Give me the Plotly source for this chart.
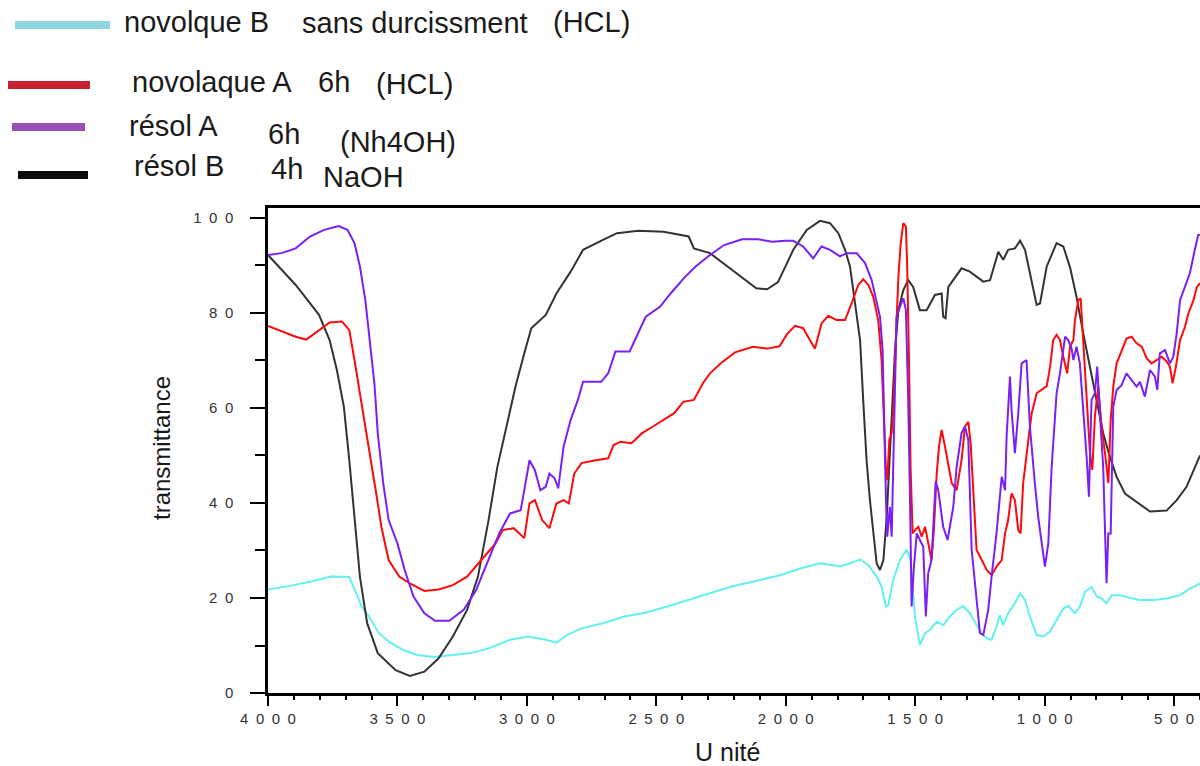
import plotly.graph_objects as go

# --- data (wavenumber, transmittance) ---
novolque_b_w = [4000, 3920, 3838, 3755, 3686, 3666, 3638, 3610, 3576, 3534, 3479, 3424, 3355, 3286,
                3217, 3148, 3065, 2996, 2927, 2886, 2845, 2789, 2706, 2624, 2541, 2458, 2375, 2293,
                2210, 2100, 2022, 1945, 1868, 1791, 1752, 1713, 1681, 1649, 1630, 1613, 1604, 1585,
                1559, 1533, 1518, 1501, 1482, 1462, 1443, 1417, 1392, 1366, 1340, 1315, 1289, 1263,
                1243, 1224, 1205, 1186, 1173, 1160, 1141, 1115, 1095, 1076, 1057, 1031, 1006, 980,
                954, 928, 909, 889, 883, 864, 844, 819, 799, 780, 761, 741, 709, 677, 632, 581, 529,
                477, 439, 400]
novolque_b_t = [21.8, 22.5, 23.4, 24.5, 24.4, 21.7, 18.2, 16.1, 12.9, 10.8, 9.1, 8.0, 7.6, 8.0,
                8.4, 9.4, 11.2, 11.9, 11.2, 10.6, 12.2, 13.6, 14.7, 16.1, 16.9, 18.2, 19.6, 21.0,
                22.4, 23.8, 24.8, 26.2, 27.3, 26.7, 27.3, 28.1, 26.9, 24.5, 22.4, 18.2, 18.5, 23.8,
                28.0, 30.2, 28.0, 16.1, 10.1, 12.6, 13.3, 15.0, 14.3, 16.1, 17.5, 18.3, 16.8, 14.3,
                12.6, 11.5, 11.2, 14.0, 16.4, 14.3, 16.8, 18.9, 21.0, 19.6, 16.1, 12.2, 11.9, 12.9,
                15.4, 17.8, 18.3, 17.1, 16.8, 18.2, 21.3, 22.3, 20.3, 19.9, 18.9, 20.6, 20.6, 20.1,
                19.6, 19.6, 19.9, 20.6, 22.0, 23.1]

novolaque_a_w = [4000, 3948, 3893, 3852, 3810, 3762, 3714, 3686, 3666, 3645, 3624, 3603, 3582, 3562,
                 3534, 3493, 3452, 3396, 3341, 3286, 3231, 3176, 3121, 3093, 3051, 3010, 2990, 2969,
                 2941, 2913, 2886, 2858, 2838, 2817, 2789, 2734, 2686, 2665, 2638, 2596, 2555, 2513,
                 2472, 2431, 2396, 2355, 2320, 2293, 2251, 2196, 2127, 2072, 2024, 1996, 1964, 1933,
                 1907, 1887, 1862, 1836, 1804, 1771, 1746, 1720, 1701, 1681, 1662, 1643, 1630, 1621,
                 1613, 1608, 1600, 1591, 1584, 1574, 1565, 1556, 1546, 1536, 1531, 1524, 1518, 1510,
                 1501, 1488, 1475, 1462, 1450, 1437, 1428, 1417, 1408, 1398, 1385, 1372, 1359, 1340,
                 1321, 1308, 1295, 1286, 1276, 1263, 1243, 1224, 1205, 1186, 1166, 1153, 1141, 1128,
                 1115, 1102, 1093, 1083, 1063, 1050, 1031, 1012, 992, 979, 967, 954, 941, 928, 913,
                 902, 889, 883, 870, 861, 851, 838, 825, 816, 806, 793, 780, 767, 754, 745, 735, 722,
                 703, 684, 664, 645, 625, 606, 587, 567, 548, 529, 516, 506, 493, 477, 458, 445, 425,
                 412, 400]
novolaque_a_t = [77.3, 76.1, 75.0, 74.4, 76.1, 78.0, 78.2, 76.4, 70.1, 63.1, 56.8, 49.0, 42.0, 35.0,
                 28.0, 24.5, 23.1, 21.5, 21.8, 22.7, 24.5, 28.0, 31.5, 34.3, 34.7, 32.6, 39.9, 40.6,
                 36.4, 34.7, 39.9, 40.6, 39.9, 46.2, 48.4, 49.0, 49.4, 52.2, 52.9, 52.6, 54.7, 56.1,
                 57.5, 58.9, 61.3, 61.7, 65.2, 67.3, 69.4, 71.7, 72.9, 72.5, 73.0, 75.5, 77.3, 76.8,
                 74.3, 72.5, 77.8, 79.4, 78.5, 78.5, 82.0, 85.9, 87.1, 85.9, 83.4, 78.5, 70.1, 58.2,
                 47.0, 44.8, 53.3, 54.7, 60.3, 75.7, 87.6, 94.7, 98.9, 98.2, 89.8, 70.1, 47.6, 33.6,
                 34.3, 35.0, 32.9, 35.0, 31.5, 28.0, 34.3, 46.2, 51.9, 55.4, 51.9, 47.6, 44.2, 42.7,
                 49.0, 56.1, 57.1, 52.6, 43.4, 30.1, 28.0, 25.9, 24.8, 26.6, 28.0, 33.6, 36.4, 42.0,
                 40.6, 34.3, 33.6, 44.2, 53.3, 58.9, 63.1, 63.8, 64.6, 68.7, 74.3, 75.4, 74.3, 70.8, 67.3,
                 72.9, 74.3, 78.5, 82.7, 83.1, 74.3, 61.7, 50.5, 47.0, 58.2, 64.5, 56.1, 50.5, 44.2, 57.5, 64.5, 69.4,
                 72.2, 74.6, 75.0, 73.6, 72.9, 70.5, 69.4, 70.1, 70.8, 69.8, 68.7, 65.2, 68.7, 74.3, 77.1, 79.9, 82.7,
                 85.5, 86.3]

resol_a_w = [4000, 3948, 3893, 3838, 3783, 3727, 3693, 3666, 3645, 3624, 3603, 3589, 3576, 3555,
             3534, 3500, 3472, 3438, 3396, 3355, 3300, 3244, 3196, 3148, 3107, 3065, 3024, 3010,
             2990, 2969, 2948, 2927, 2913, 2893, 2879, 2858, 2831, 2803, 2783, 2713, 2686, 2658,
             2603, 2541, 2486, 2445, 2389, 2348, 2293, 2238, 2169, 2107, 2051, 2003, 1971, 1933,
             1894, 1862, 1829, 1791, 1765, 1726, 1694, 1668, 1649, 1636, 1626, 1621, 1613, 1608,
             1598, 1591, 1582, 1572, 1559, 1546, 1536, 1527, 1520, 1514, 1505, 1494, 1482, 1469,
             1459, 1450, 1437, 1428, 1421, 1411, 1392, 1375, 1353, 1340, 1321, 1308, 1295, 1282,
             1263, 1250, 1237, 1218, 1205, 1186, 1166, 1153, 1147, 1134, 1128, 1115, 1102, 1089,
             1070, 1057, 1038, 1025, 999, 986, 973, 954, 941, 921, 909, 896, 889, 877, 864, 851,
             838, 829, 819, 806, 797, 786, 774, 761, 754, 745, 735, 722, 703, 684, 664, 645, 632,
             613, 593, 574, 565, 555, 535, 516, 503, 490, 477, 458, 439, 420, 407, 400]
resol_a_t = [92.2, 92.6, 93.6, 96.1, 97.5, 98.3, 97.5, 94.7, 89.8, 82.7, 72.2, 65.2, 54.7, 44.2,
             36.4, 31.5, 25.9, 20.3, 16.8, 15.2, 15.2, 17.5, 21.7, 28.0, 33.6, 37.8, 38.5, 42.7,
             49.0, 46.9, 42.7, 43.4, 46.2, 45.2, 43.1, 51.9, 57.5, 61.7, 65.5, 65.5, 67.3, 71.9,
             71.9, 79.2, 81.3, 84.1, 87.6, 89.8, 92.2, 94.3, 95.5, 95.5, 95.0, 95.2, 95.2, 94.0,
             91.5, 94.0, 93.3, 91.9, 92.6, 92.6, 90.5, 86.9, 82.7, 79.2, 72.2, 58.2, 40.6, 32.9,
             39.2, 32.9, 54.7, 79.2, 81.3, 83.1, 80.6, 61.7, 40.6, 18.2, 26.6, 33.6, 32.2, 30.8,
             16.1, 25.2, 28.0, 38.5, 44.5, 42.7, 35.0, 32.2, 39.2, 47.6, 54.7, 56.1, 53.3, 30.1,
             19.6, 12.6, 12.2, 17.5, 24.5, 33.6, 45.5, 42.7, 54.0, 66.6, 59.6, 50.5, 58.9, 69.4,
             70.1, 56.1, 44.2, 37.1, 26.6, 31.5, 47.6, 63.1, 67.3, 75.0, 74.3, 72.5, 70.1, 72.9, 69.4, 60.3,
             49.7, 41.3, 61.7, 63.1, 68.7, 58.2, 47.6, 23.1, 33.6, 33.6, 60.3, 63.8, 64.8, 67.3, 65.9, 64.5, 65.5,
             62.4, 68.0, 66.6, 63.8, 71.5, 72.2, 69.4, 70.8, 75.7, 82.7, 85.5, 88.4, 93.3, 96.4, 96.5]

resol_b_w = [4000, 3893, 3803, 3762, 3734, 3707, 3686, 3666, 3645, 3617, 3576, 3507, 3452, 3396,
             3341, 3286, 3231, 3189, 3148, 3114, 3079, 3044, 3010, 2983, 2927, 2886, 2831, 2783,
             2706, 2652, 2569, 2472, 2375, 2355, 2293, 2210, 2114, 2072, 2030, 1971, 1919, 1868,
             1829, 1797, 1771, 1752, 1733, 1713, 1701, 1688, 1675, 1662, 1649, 1636, 1623, 1610,
             1591, 1578, 1565, 1546, 1527, 1508, 1482, 1456, 1424, 1398, 1392, 1383, 1372, 1321,
             1289, 1237, 1211, 1179, 1160, 1141, 1115, 1095, 1076, 1050, 1031, 1018, 992, 954, 928,
             902, 877, 851, 825, 799, 774, 748, 722, 690, 645, 593, 529, 490, 452, 420, 400]
resol_b_t = [92.2, 85.9, 79.6, 74.3, 68.0, 60.3, 49.0, 36.4, 24.5, 14.7, 8.4, 4.8, 3.6, 4.5,
             7.3, 11.9, 17.5, 24.5, 36.4, 47.6, 56.1, 64.5, 71.5, 76.8, 79.6, 84.1, 88.7, 93.3,
             95.4, 96.8, 97.3, 97.1, 96.1, 93.6, 92.6, 89.1, 85.2, 85.0, 86.5, 93.3, 97.5, 99.4,
             98.9, 96.8, 93.3, 89.8, 82.7, 74.3, 61.7, 49.1, 40.6, 33.6, 27.3, 25.9, 28.0, 37.1,
             58.2, 72.2, 80.6, 84.8, 86.9, 85.5, 80.6, 80.6, 83.8, 84.1, 79.2, 78.9, 85.5, 89.4,
             88.7, 86.6, 86.9, 92.9, 91.2, 93.3, 93.6, 95.2, 93.3, 86.3, 81.7, 82.0, 89.8, 94.7, 94.0,
             89.6, 83.4, 75.7, 68.7, 61.7, 54.7, 49.7, 45.5, 42.0, 40.3, 38.2, 38.4, 40.6, 43.4, 47.6, 50.0]

x_major = [4000, 3500, 3000, 2500, 2000, 1500, 1000, 500]
y_major = [0, 20, 40, 60, 80, 100]

W, H = 1200, 766
ML, MR, MT, MB = 268, 0, 208, 73


def px(x):
    return (x - ML) / (W - ML - MR)


def py(y):
    return (H - MB - y) / (H - MT - MB)


def spaced(v):
    return "\u2002".join(str(v))


fig = go.Figure()
fig.add_trace(go.Scatter(x=novolque_b_w, y=novolque_b_t, mode="lines",
                         line=dict(color="#62f0f0", width=2), name="novolque B"))
fig.add_trace(go.Scatter(x=resol_b_w, y=resol_b_t, mode="lines",
                         line=dict(color="#333333", width=2), name="résol B"))
fig.add_trace(go.Scatter(x=novolaque_a_w, y=novolaque_a_t, mode="lines",
                         line=dict(color="#ff0a0a", width=2), name="novolaque A"))
fig.add_trace(go.Scatter(x=resol_a_w, y=resol_a_t, mode="lines",
                         line=dict(color="#7a1ff5", width=2), name="résol A"))

# legend swatches drawn by hand like in the scanned figure
swatches = [(15, 110, 25, "#8fd6e0"), (8, 90, 85, "#c9202f"),
            (12, 85, 127, "#9a4fb4"), (18, 88, 175, "#0a0a0a")]
shapes = [dict(type="line", xref="paper", yref="paper", x0=px(a), x1=px(b), y0=py(y), y1=py(y),
               line=dict(color=c, width=8)) for a, b, y, c in swatches]

legend_txt = [("novolque B", 122, 22), ("sans durcissment", 300, 23), ("(HCL)", 551, 22),
              ("novolaque A", 130, 82), ("6h", 316, 82), ("(HCL)", 374, 84),
              ("résol A", 127, 126), ("6h", 266, 134), ("(Nh4OH)", 338, 142),
              ("résol B", 132, 166), ("4h", 269, 169), ("NaOH", 321, 177)]
annotations = [dict(text=t, x=px(x), y=py(y), xref="paper", yref="paper", xanchor="left",
                    yanchor="middle", showarrow=False,
                    font=dict(family="Liberation Sans", size=29, color="#1a1a1a"))
               for t, x, y in legend_txt]
annotations.append(dict(text="transmittance", x=px(161), y=py(448), xref="paper", yref="paper",
                        xanchor="center", yanchor="middle", textangle=-90, showarrow=False,
                        font=dict(family="Liberation Sans", size=24, color="#1a1a1a")))
annotations.append(dict(text="U nité", x=px(727), y=py(752), xref="paper", yref="paper",
                        xanchor="center", yanchor="middle", showarrow=False,
                        font=dict(family="Liberation Sans", size=25, color="#1a1a1a")))

fig.update_layout(
    width=W, height=H,
    margin=dict(l=ML, r=MR, t=MT, b=MB, autoexpand=False),
    paper_bgcolor="white", plot_bgcolor="white",
    showlegend=False,
    shapes=shapes, annotations=annotations,
    xaxis=dict(range=[4000, 400], showgrid=False, zeroline=False,
               showline=True, linecolor="black", linewidth=2.5, mirror=True,
               ticks="outside", ticklen=10, tickwidth=2, tickcolor="black",
               tickvals=x_major, ticktext=[spaced(v) for v in x_major],
               ticklabelstandoff=0,
               tickfont=dict(family="Liberation Sans", size=15, color="#333"),
               minor=dict(ticks="outside", ticklen=4, tickwidth=2, tickcolor="black",
                          dtick=100, tick0=0)),
    yaxis=dict(range=[0, 102.1], showgrid=False, zeroline=False,
               showline=True, linecolor="black", linewidth=2.5,
               ticks="outside", ticklen=15, tickwidth=2, tickcolor="black",
               tickvals=y_major, ticktext=[spaced(v) for v in y_major],
               ticklabelstandoff=14,
               tickfont=dict(family="Liberation Sans", size=15, color="#333"),
               minor=dict(ticks="outside", ticklen=10, tickwidth=2, tickcolor="black",
                          dtick=10, tick0=0)),
)

# drop the browser's default page margin so the figure fills the window exactly
fig.write_html("out.html", config={"displayModeBar": False},
               post_script="document.body.style.margin='0';document.body.style.overflow='hidden';")
